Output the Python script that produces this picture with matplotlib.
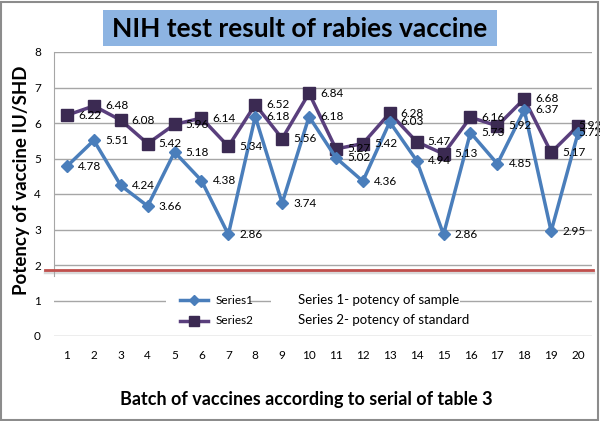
import matplotlib
matplotlib.use("Agg")
import matplotlib.pyplot as plt
from matplotlib.patches import Rectangle
from matplotlib.lines import Line2D

plt.rcParams['font.family'] = ['Lato', 'DejaVu Sans']

batches = list(range(1, 21))
series1 = [4.78, 5.51, 4.24, 3.66, 5.18, 4.38, 2.86, 6.18, 3.74, 6.18,
           5.02, 4.36, 6.03, 4.94, 2.86, 5.73, 4.85, 6.37, 2.95, 5.72]
series2 = [6.22, 6.48, 6.08, 5.42, 5.96, 6.14, 5.34, 6.52, 5.56, 6.84,
           5.27, 5.42, 6.28, 5.47, 5.13, 6.16, 5.92, 6.68, 5.17, 5.92]
yticks = [0, 1, 2, 3, 4, 5, 6, 7, 8]
title = "NIH test result of rabies vaccine"
ylabel = "Potency of vaccine IU/SHD"
xlabel = "Batch of vaccines according to serial of table 3"
legend_names = ["Series1", "Series2"]
notes = ["Series 1- potency of sample", "Series 2- potency of standard"]
red_level = 1.85

W, H = 600, 421
fig = plt.figure(figsize=(W / 100, H / 100), dpi=100)
fig.patch.set_facecolor('white')

# outer frame
fig.add_artist(Rectangle((1 / W, 1 / H), 1 - 3 / W, 1 - 3 / H, transform=fig.transFigure,
                         fill=False, edgecolor='#8c8c8c', lw=1.5))

left_px, right_px = 53.5, 591.5
top_px, bot_px = 52, 336
ax = fig.add_axes([left_px / W, 1 - bot_px / H, (right_px - left_px) / W, (bot_px - top_px) / H])
ax.set_xlim(0.5, 20.5)
ax.set_ylim(0, 8)

c1 = '#4A7EBB'
c2_line = '#5A3F7D'
c2_mark = '#3B2A52'

ax.plot(batches, series1, color=c1, lw=2.5, marker='D', ms=6.5, mfc=c1, mec=c1, zorder=5)
ax.plot(batches, series2, color=c2_line, lw=2.5, marker='s', ms=8, mfc=c2_mark, mec=c2_mark, zorder=4)

n = len(batches)
for series in (series1, series2):
    for i, (x, y) in enumerate(zip(batches, series)):
        dx = 8 if i < n - 1 else 0.5
        ax.annotate(f"{y:.2f}", (x, y), xytext=(dx, 0), textcoords='offset points',
                    va='center', ha='left', fontsize=8.5, color='black', zorder=6,
                    annotation_clip=False)

ax.set_yticks(yticks)
ax.set_xticks(batches)
ax.yaxis.grid(True, color='#a6a6a6', lw=1)
ax.set_axisbelow(True)
for s in ['top', 'right', 'bottom']:
    ax.spines[s].set_visible(False)
ax.spines['left'].set_color('#a6a6a6')
ax.spines['left'].set_bounds(1.7, 8)
ax.tick_params(axis='y', length=0, labelsize=8.5, pad=9, colors='black')
ax.tick_params(axis='x', length=0, labelsize=8.5, pad=10, colors='black')

# red line with faint shadow
ax.plot([0.18, 20.55], [red_level - 0.06, red_level - 0.06], color='#d9d9d9', lw=2.5,
        clip_on=False, zorder=2)
ax.plot([0.18, 20.55], [red_level, red_level], color='#C0504D', lw=2.0, clip_on=False, zorder=3)

# legend boxes (white) covering gridline
ax.add_patch(Rectangle((4.7, 0.55), 3.1, 0.75, facecolor='white', edgecolor='none', zorder=2))
ax.add_patch(Rectangle((8.6, 0.55), 7.0, 0.75, facecolor='white', edgecolor='none', zorder=2))

def px2x(px):
    return (px - left_px) / (right_px - left_px) * 20 + 0.5

def py2y(py):
    return (bot_px - py) / (bot_px - top_px) * 8

# legend entries
for name, col, mcol, mk, ms, py in [(legend_names[0], c1, c1, 'D', 5.5, 300),
                                     (legend_names[1], c2_line, c2_mark, 's', 7, 321)]:
    ax.add_line(Line2D([px2x(180), px2x(208)], [py2y(py), py2y(py)], color=col, lw=2.5,
                       zorder=7))
    ax.add_line(Line2D([px2x(194)], [py2y(py)], marker=mk, ms=ms, mfc=mcol, mec=mcol,
                       zorder=8))
    ax.text(px2x(216), py2y(py), name, fontsize=8.5, va='center', ha='left', zorder=8)

ax.text(px2x(298), py2y(300), notes[0], fontsize=9.5, va='center', ha='left', zorder=8)
ax.text(px2x(298), py2y(320), notes[1], fontsize=9.5, va='center', ha='left', zorder=8)

# title box
fig.add_artist(Rectangle((103 / W, 1 - 46 / H), 394 / W, 36 / H, transform=fig.transFigure,
                         facecolor='#8DB4E2', edgecolor='none'))
fig.text(300 / W, 1 - 29 / H, title, fontsize=19, fontweight='bold', ha='center',
         va='center')

fig.text(22 / W, 1 - 180 / H, ylabel, fontsize=13.5, fontweight='bold', rotation=90,
         ha='center', va='center')
fig.text(306 / W, 1 - 400 / H, xlabel, fontsize=13, fontweight='bold', ha='center',
         va='center')

fig.savefig('out.png', dpi=100)
